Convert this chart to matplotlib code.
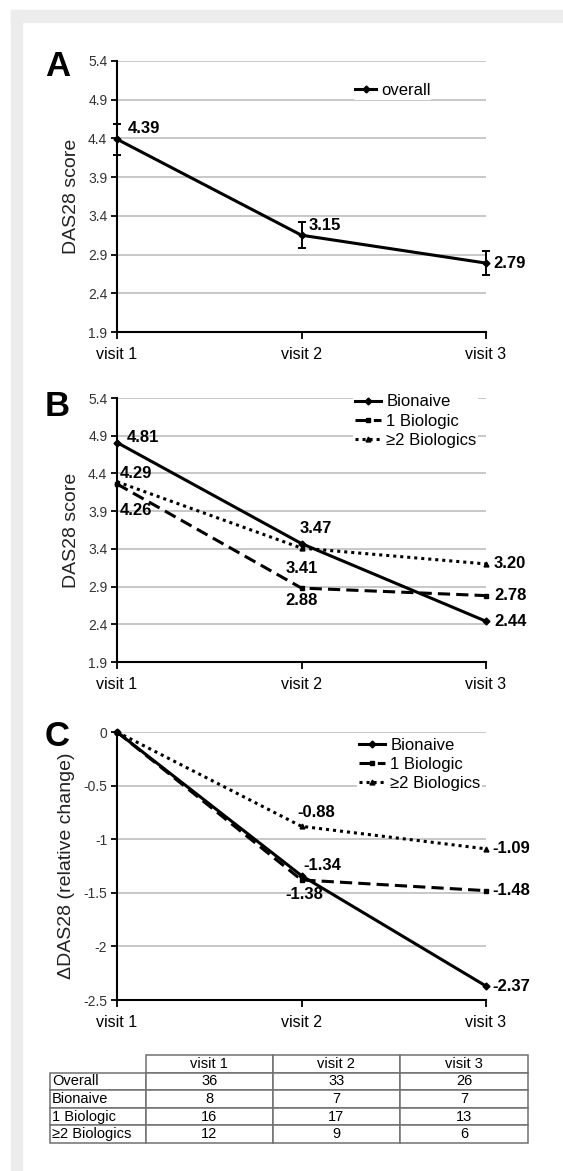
import numpy as np
import matplotlib.pyplot as plt
from matplotlib.patches import Rectangle

plt.rcParams['font.family'] = ['Liberation Sans', 'DejaVu Sans']

visits = ['visit 1', 'visit 2', 'visit 3']

# panel A
overall = [4.39, 3.15, 2.79]
overall_err = [0.20, 0.17, 0.16]

# panel B
groups = ['Bionaive', '1 Biologic', '\u22652 Biologics']
das_bionaive = [4.81, 3.47, 2.44]
das_one = [4.26, 2.88, 2.78]
das_two = [4.29, 3.41, 3.20]

# panel C
chg_bionaive = [0, -1.34, -2.37]
chg_one = [0, -1.38, -1.48]
chg_two = [0, -0.88, -1.09]

# table of patient counts
table_rows = ['Overall', 'Bionaive', '1 Biologic', '\u22652 Biologics']
n_overall = [36, 33, 26]
n_bionaive = [8, 7, 7]
n_one = [16, 17, 13]
n_two = [12, 9, 6]

W, H = 563, 1171
fig = plt.figure(figsize=(W / 100, H / 100), dpi=100)
fig.patch.set_facecolor('white')

# grey frame along top and left
fig.patches.append(Rectangle((11 / W, 1 - 22 / H), 1 - 11 / W, 12 / H, transform=fig.transFigure,
                             color='#ececec', zorder=0))
fig.patches.append(Rectangle((11 / W, 0), 11 / W, 1 - 10 / H, transform=fig.transFigure,
                             color='#ececec', zorder=0))

x = np.arange(len(visits))
styles = [('-', 'D', 3.5), ((0, (4, 2)), 's', 3.5), ((0, (1, 1.3)), '^', 3.5)]


def ax_at(top, bottom):
    return fig.add_axes([117 / W, 1 - bottom / H, 369 / W, (bottom - top) / H])


def style_axes(ax, ylim, yticks, ylabel, letter, letter_y, fmt):
    ax.set_xlim(0, 2)
    ax.set_ylim(*ylim)
    ax.set_yticks(yticks)
    ax.set_yticklabels([fmt % t for t in yticks])
    ax.set_xticks(x)
    ax.set_xticklabels(visits, fontsize=11.5)
    ax.tick_params(axis='y', labelsize=10, length=4, width=1.3, direction='out', pad=3,
                   labelcolor='#333333')
    ax.tick_params(axis='x', length=5, width=1.3, direction='out', pad=6)
    ax.grid(axis='y', color='#c8c8c8', linewidth=1.4)
    ax.set_axisbelow(True)
    for s in ['top', 'right']:
        ax.spines[s].set_visible(False)
    for s in ['left', 'bottom']:
        ax.spines[s].set_linewidth(1.5)
    ax.set_ylabel(ylabel, fontsize=14, color='#222222', labelpad=6)
    fig.text(45 / W, 1 - letter_y / H, letter, fontsize=25, fontweight='bold', va='center', ha='left')


def label(ax, xv, yv, txt, dx, dy, ha='left'):
    ax.annotate(txt, (xv, yv), xytext=(dx * 0.72, -dy * 0.72), textcoords='offset points',
                fontsize=12, fontweight='bold', ha=ha, va='center', annotation_clip=False)


leg_kw = dict(loc='upper left', fontsize=12, handlelength=1.6, handletextpad=0.3,
              labelspacing=0.25, borderaxespad=0, borderpad=0.1, frameon=True,
              facecolor='white', edgecolor='none', framealpha=1)

# ---- A ----
axA = ax_at(61, 332)
axA.errorbar(x, overall, yerr=overall_err, color='black', lw=2.2, capsize=3, capthick=1.4,
             elinewidth=1.4, marker='D', ms=3.5, label='overall', clip_on=False, zorder=3)
style_axes(axA, (1.9, 5.4), np.arange(1.9, 5.41, 0.5), 'DAS28 score', 'A', 67, '%.1f')
hA, lA = axA.get_legend_handles_labels()
axA.legend([plt.Line2D([], [], color='black', lw=2.2, marker='D', ms=3.5)], lA,
           bbox_to_anchor=(0.64, 0.925), **dict(leg_kw, handlelength=1.3))
label(axA, 0, overall[0], '4.39', 11, -11)
label(axA, 1, overall[1], '3.15', 7, -10)
label(axA, 2, overall[2], '2.79', 7, 0)

# ---- B ----
axB = ax_at(398, 662)
for vals, (ls, mk, ms), name in zip([das_bionaive, das_one, das_two], styles, groups):
    axB.plot(x, vals, color='black', lw=2.2, ls=ls, marker=mk, ms=ms, label=name,
             clip_on=False, zorder=3)
style_axes(axB, (1.9, 5.4), np.arange(1.9, 5.41, 0.5), 'DAS28 score', 'B', 407, '%.1f')
axB.legend(bbox_to_anchor=(0.64, 1.02), **leg_kw)
label(axB, 0, das_bionaive[0], '4.81', 10, -5)
label(axB, 0, das_two[0], '4.29', 3, -8)
label(axB, 0, das_one[0], '4.26', 3, 27)
label(axB, 1, das_bionaive[1], '3.47', 14, -15, ha='center')
label(axB, 1, das_two[1], '3.41', 0, 20, ha='center')
label(axB, 1, das_one[1], '2.88', 0, 12, ha='center')
label(axB, 2, das_two[2], '3.20', 8, 0)
label(axB, 2, das_one[2], '2.78', 8, 0)
label(axB, 2, das_bionaive[2], '2.44', 8, 0)

# ---- C ----
axC = ax_at(732, 1000)
for vals, (ls, mk, ms), name in zip([chg_bionaive, chg_one, chg_two], styles, groups):
    axC.plot(x, vals, color='black', lw=2.2, ls=ls, marker=mk, ms=ms, label=name,
             clip_on=False, zorder=3)
style_axes(axC, (-2.5, 0), [-2.5, -2, -1.5, -1, -0.5, 0], '\u0394DAS28 (relative change)', 'C', 737, '%g')
axC.legend(bbox_to_anchor=(0.65, 0.985), **leg_kw)
label(axC, 1, chg_two[1], '-0.88', 15, -14, ha='center')
label(axC, 1, chg_bionaive[1], '-1.34', 21, -10, ha='center')
label(axC, 1, chg_one[1], '-1.38', 3, 15, ha='center')
label(axC, 2, chg_two[2], '-1.09', 6, 0)
label(axC, 2, chg_one[2], '-1.48', 6, 0)
label(axC, 2, chg_bionaive[2], '-2.37', 6, 0)

# ---- table ----
axT = fig.add_axes([50 / W, 1 - 1143 / H, 478 / W, 88 / H])
axT.axis('off')
cells = [[''] + visits]
for name, vals in zip(table_rows, [n_overall, n_bionaive, n_one, n_two]):
    cells.append([name] + [str(v) for v in vals])
tbl = axT.table(cellText=cells, bbox=[0, 0, 1, 1], cellLoc='center',
                colWidths=[0.2, 0.266, 0.266, 0.268])
tbl.auto_set_font_size(False)
for (r, c), cell in tbl.get_celld().items():
    cell.set_edgecolor('#707070')
    cell.set_linewidth(1.1)
    cell.get_text().set_fontsize(10.5)
    if c == 0:
        cell.get_text().set_ha('left')
        cell.PAD = 0.02
    if r == 0 and c == 0:
        cell.visible_edges = ''

fig.savefig('out.png', dpi=100, facecolor='white')
